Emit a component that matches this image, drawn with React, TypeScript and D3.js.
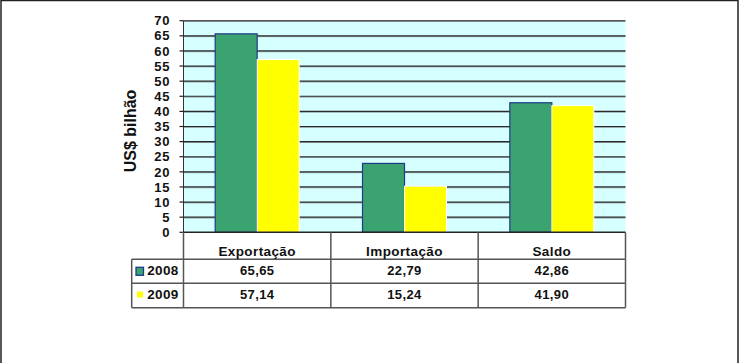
import * as d3 from "d3";
import * as React from "react";

const categories = ["Exportação", "Importação", "Saldo"];
const years = ["2008", "2009"];
const values2008 = [65.65, 22.79, 42.86];
const values2009 = [57.14, 15.24, 41.9];
const labels2008 = ["65,65", "22,79", "42,86"];
const labels2009 = ["57,14", "15,24", "41,90"];
const yTicks = [0, 5, 10, 15, 20, 25, 30, 35, 40, 45, 50, 55, 60, 65, 70];

const colors: Record<string, string> = { "2008": "#3AA370", "2009": "#FFFF00" };
const font = "'Liberation Sans', Arial, sans-serif";

export default function App() {
  const width = 740;
  const height = 363;
  const plot = { left: 183.5, right: 625.5, top: 20.7, bottom: 232.3 };

  const y = d3.scaleLinear().domain([0, 70]).range([plot.bottom, plot.top]);
  const x0 = d3.scaleBand<string>().domain(categories).range([plot.left, plot.right]);
  const x1 = d3
    .scaleBand<string>()
    .domain(years)
    .range([0, x0.bandwidth()])
    .paddingInner(0)
    .paddingOuter(0.754);

  const series = [
    { year: "2008", values: values2008, labels: labels2008 },
    { year: "2009", values: values2009, labels: labels2009 },
  ];

  const rowTop = plot.bottom;
  const headerBottom = 259.3;
  const row1Bottom = 283.3;
  const row2Bottom = 307.7;
  const legendLeft = 131.7;
  const lineColor = "#555";

  return (
    <svg
      width={width}
      height={height}
      style={{ position: "absolute", left: 0, top: 0, background: "#fff" }}
    >
      {/* outer frame */}
      <rect x={1} y={0.5} width={737} height={370} fill="#fff" stroke="#222" strokeWidth={1.5} />

      {/* plot area */}
      <rect
        x={plot.left}
        y={plot.top}
        width={plot.right - plot.left}
        height={plot.bottom - plot.top}
        fill="#D6FFFF"
      />
      {yTicks
        .filter((t) => t > 0)
        .map((t) => (
          <g key={t}>
            <line x1={plot.left} x2={plot.right} y1={y(t) + 0.8} y2={y(t) + 0.8} stroke="#8a9a9a" strokeWidth={1} />
            <line
              x1={plot.left}
              x2={plot.right}
              y1={y(t)}
              y2={y(t)}
              stroke={t === 70 ? "#555" : "#2a2a2a"}
              strokeWidth={1.2}
            />
          </g>
        ))}

      {/* bars */}
      {categories.map((c, i) => (
        <g key={c} transform={`translate(${x0(c)},0)`}>
          {series.map((s) => (
            <rect
              key={s.year}
              x={x1(s.year)}
              y={y(s.values[i])}
              width={x1.bandwidth()}
              height={y(0) - y(s.values[i])}
              fill={colors[s.year]}
              stroke={s.year === "2008" ? "#1F3A8A" : "#FFFFFF"}
              strokeWidth={s.year === "2008" ? 1.2 : 1}
            />
          ))}
        </g>
      ))}

      {/* y axis */}
      <line x1={plot.left} x2={plot.left} y1={plot.top} y2={plot.bottom} stroke="#333" strokeWidth={1} />
      {yTicks.map((t) => (
        <g key={t}>
          <line x1={plot.left - 4} x2={plot.left} y1={y(t)} y2={y(t)} stroke="#222" strokeWidth={1.2} />
          <text
            x={170}
            y={y(t)}
            dy="0.36em"
            textAnchor="end"
            fontFamily={font}
            fontWeight="bold"
            fontSize={13}
            letterSpacing={0.6}
            fill="#111"
          >
            {t}
          </text>
        </g>
      ))}
      <text
        transform={`translate(136,131) rotate(-90)`}
        textAnchor="middle"
        fontFamily={font}
        fontWeight="bold"
        fontSize={16}
        fill="#111"
      >
        US$ bilhão
      </text>

      {/* data table */}
      <g stroke={lineColor} strokeWidth={1.5} fill="none">
        <line x1={plot.left} x2={plot.right} y1={rowTop} y2={rowTop} stroke="#222" />
        <line x1={legendLeft} x2={plot.right} y1={headerBottom} y2={headerBottom} />
        <line x1={legendLeft} x2={plot.right} y1={row1Bottom} y2={row1Bottom} />
        <line x1={legendLeft} x2={plot.right} y1={row2Bottom} y2={row2Bottom} />
        <line x1={legendLeft} x2={legendLeft} y1={headerBottom} y2={row2Bottom} />
        {categories.map((c) => (
          <line key={c} x1={x0(c)} x2={x0(c)} y1={rowTop} y2={row2Bottom} />
        ))}
        <line x1={plot.right} x2={plot.right} y1={rowTop} y2={row2Bottom} />
      </g>
      {categories.map((c) => (
        <text
          key={c}
          x={(x0(c) as number) + x0.bandwidth() / 2}
          y={255.7}
          textAnchor="middle"
          fontFamily={font}
          fontWeight="bold"
          fontSize={13.5}
          letterSpacing={0.4}
          fill="#111"
        >
          {c}
        </text>
      ))}
      {series.map((s, r) => {
        const top = r === 0 ? headerBottom : row1Bottom;
        const bottom = r === 0 ? row1Bottom : row2Bottom;
        const mid = (top + bottom) / 2;
        const baseline = r === 0 ? 274.5 : 298.8;
        return (
          <g key={s.year}>
            {s.year === "2008" ? (
              <rect x={136} y={mid - 4} width={7.5} height={8} fill={colors[s.year]} stroke="#1F3A8A" strokeWidth={1.3} />
            ) : (
              <rect x={137} y={mid - 4} width={6} height={6} fill={colors[s.year]} />
            )}
            <text
              x={178.5}
              y={baseline}
              textAnchor="end"
              fontFamily={font}
              fontWeight="bold"
              fontSize={13.5}
              letterSpacing={0.3}
              fill="#111"
            >
              {s.year}
            </text>
            {s.labels.map((l, i) => (
              <text
                key={i}
                x={(x0(categories[i]) as number) + x0.bandwidth() / 2}
                y={baseline}
                textAnchor="middle"
                fontFamily={font}
                fontWeight="bold"
                fontSize={13}
                letterSpacing={0.4}
                fill="#111"
              >
                {l}
              </text>
            ))}
          </g>
        );
      })}
    </svg>
  );
}
